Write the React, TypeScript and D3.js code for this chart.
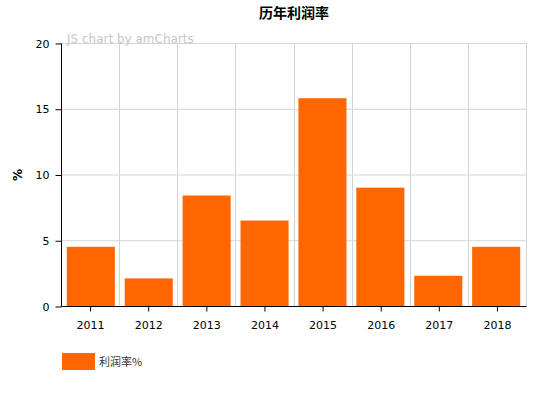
import React, { useEffect, useRef } from 'react';
import * as d3 from 'd3';

const years = ['2011', '2012', '2013', '2014', '2015', '2016', '2017', '2018'];
const profitRate = [4.5, 2.1, 8.4, 6.5, 15.8, 9.0, 2.3, 4.5];
const yTicks = [0, 5, 10, 15, 20];

const App = () => {
  const ref = useRef<SVGSVGElement>(null);

  useEffect(() => {
    const svg = d3.select(ref.current);
    svg.selectAll('*').remove();
    const font = 'Verdana, "DejaVu Sans", sans-serif';
    const left = 61, right = 526, top = 43, bottom = 306;

    const x = d3.scaleBand().domain(years).range([left, right]).paddingInner(0.17).paddingOuter(0.1);
    const xGrid = d3.scaleBand().domain(years).range([left, right]);
    const y = d3.scaleLinear().domain([0, 20]).range([bottom, top]);

    // grid
    const g = svg.append('g');
    g.selectAll('line.h')
      .data(yTicks)
      .enter()
      .append('line')
      .attr('x1', left).attr('x2', right)
      .attr('y1', d => y(d) + 0.5).attr('y2', d => y(d) + 0.5)
      .attr('stroke', '#d4d4d4');
    g.selectAll('line.v')
      .data(years.slice(1))
      .enter()
      .append('line')
      .attr('x1', d => Math.round(xGrid(d)!) + 0.5).attr('x2', d => Math.round(xGrid(d)!) + 0.5)
      .attr('y1', top).attr('y2', bottom)
      .attr('stroke', '#d4d4d4');
    g.append('line')
      .attr('x1', right + 0.5).attr('x2', right + 0.5)
      .attr('y1', top).attr('y2', bottom)
      .attr('stroke', '#d4d4d4');

    // watermark
    svg.append('text')
      .attr('x', 67).attr('y', 43)
      .attr('font-family', font).attr('font-size', 12)
      .attr('fill', '#c8c8c8')
      .text('JS chart by amCharts');

    // bars
    svg.selectAll('rect.bar')
      .data(profitRate)
      .enter()
      .append('rect')
      .attr('x', (d, i) => x(years[i])!)
      .attr('y', d => y(d))
      .attr('width', x.bandwidth())
      .attr('height', d => bottom - y(d))
      .attr('fill', '#ff6600');

    // y axis
    const yAxis = svg.append('g')
      .attr('transform', `translate(${left + 0.5},0.5)`)
      .call(d3.axisLeft(y).tickValues(yTicks).tickSize(6).tickPadding(6));
    yAxis.select('.domain').attr('stroke', '#000').attr('d', `M0,${top}V${bottom}`);
    yAxis.selectAll('text').attr('font-family', font).attr('font-size', 11).attr('fill', '#000');

    // x axis
    const xAxis = svg.append('g')
      .attr('transform', `translate(0.5,${bottom + 0.5})`)
      .call(d3.axisBottom(xGrid).tickSize(5).tickPadding(10));
    xAxis.select('.domain').attr('stroke', '#000').attr('d', `M${left},0H${right}`);
    xAxis.selectAll('text').attr('font-family', font).attr('font-size', 11).attr('fill', '#000');

    // axis title
    svg.append('text')
      .attr('transform', 'rotate(-90)')
      .attr('x', -175).attr('y', 22)
      .attr('text-anchor', 'middle')
      .attr('font-family', font).attr('font-size', 12).attr('font-weight', 'bold')
      .text('%');

    // title
    svg.append('text')
      .attr('x', 294).attr('y', 18)
      .attr('text-anchor', 'middle')
      .attr('font-family', '"Noto Sans CJK SC", sans-serif').attr('font-size', 14).attr('font-weight', 'bold')
      .text('历年利润率');

    // legend
    svg.append('rect')
      .attr('x', 62).attr('y', 353)
      .attr('width', 33).attr('height', 17)
      .attr('fill', '#ff6600');
    svg.append('text')
      .attr('x', 99).attr('y', 366)
      .attr('font-family', '"Noto Sans CJK SC", sans-serif').attr('font-size', 11)
      .attr('fill', '#333')
      .text('利润率%');
  }, []);

  return (
    <svg ref={ref} width={553} height={395} style={{ position: 'absolute', left: 0, top: 0 }}></svg>
  );
};

export default App;
